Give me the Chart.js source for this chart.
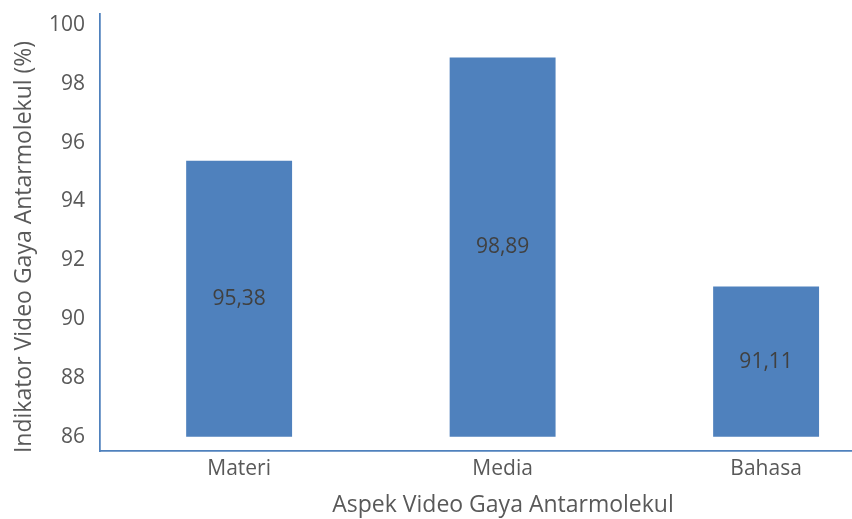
<!DOCTYPE html>
<html>
<head>
<meta charset="utf-8">
<script src="https://cdn.jsdelivr.net/npm/chart.js@4"></script>
<style>
    body { margin: 0; background: #ffffff; }
    #wrap { width: 852px; height: 519px; }
</style>
</head>
<body>
<div id="wrap"><canvas id="diagram" width="852" height="519"></canvas></div>
<script>
const categories = ['Materi', 'Media', 'Bahasa'];
const values = [95.38, 98.89, 91.11];
const yTicks = [86, 88, 90, 92, 94, 96, 98, 100];

const xTitleText = 'Aspek Video Gaya Antarmolekul';
const yTitleText = 'Indikator Video Gaya Antarmolekul (%)';

const barColor = '#4F81BD';
const textColor = '#595959';

// labels in the middle of each bar, comma as decimal separator
const barLabels = {
    id: 'barLabels',
    afterDatasetsDraw(chart) {
        const ctx = chart.ctx;
        const meta = chart.getDatasetMeta(0);
        ctx.save();
        ctx.font = '21px "Open Sans"';
        ctx.fillStyle = '#404040';
        ctx.textAlign = 'center';
        ctx.textBaseline = 'middle';
        meta.data.forEach((bar, i) => {
            ctx.fillText(values[i].toFixed(2).replace('.', ','), bar.x, (bar.y + bar.base) / 2);
        });
        ctx.restore();
    }
};

// axis titles: the original plot runs past the right edge, so they sit off centre
const axisTitles = {
    id: 'axisTitles',
    afterDraw(chart) {
        const ctx = chart.ctx;
        ctx.save();
        ctx.font = '23px "Open Sans"';
        ctx.fillStyle = textColor;
        ctx.textAlign = 'center';
        ctx.textBaseline = 'middle';
        ctx.fillText(xTitleText, 503, 505);
        ctx.translate(24, 247);
        ctx.rotate(-Math.PI / 2);
        ctx.fillText(yTitleText, 0, 0);
        ctx.restore();
    }
};

new Chart(
    document.getElementById('diagram'),
    {
        type: 'bar',
        data: {
            datasets: [
                {
                    data: values.map((v, i) => ({ x: i, y: v })),
                    base: 86,
                    backgroundColor: barColor,
                    borderWidth: 0,
                    barPercentage: 0.402,
                    categoryPercentage: 1
                }
            ]
        },
        options: {
            responsive: false,
            animation: false,
            devicePixelRatio: 1,
            layout: {
                padding: { top: 14, right: 0, left: 0, bottom: 0 }
            },
            plugins: {
                legend: { display: false },
                tooltip: { enabled: false }
            },
            scales: {
                x: {
                    type: 'linear',
                    offset: false,
                    min: -0.528,
                    max: 2.326,
                    afterBuildTicks: scale => {
                        scale.ticks = categories.map((c, i) => ({ value: i }));
                    },
                    afterFit: scale => {
                        scale.height = 68;
                        scale.paddingLeft = 0;
                        scale.paddingRight = 0;
                    },
                    grid: { display: false, drawTicks: false, offset: false },
                    border: { display: true, color: barColor, width: 1.75 },
                    ticks: {
                        padding: 5,
                        color: textColor,
                        font: { family: 'Open Sans', size: 21 },
                        callback: v => categories[v]
                    }
                },
                y: {
                    min: 85.52,
                    max: 100.37,
                    afterBuildTicks: scale => {
                        scale.ticks = yTicks.map(v => ({ value: v }));
                    },
                    afterFit: scale => {
                        scale.width = 100;
                        scale.paddingTop = 0;
                        scale.paddingBottom = 0;
                    },
                    grid: { display: false, drawTicks: false },
                    border: { display: true, color: barColor, width: 1.75 },
                    ticks: {
                        padding: 15,
                        color: textColor,
                        font: { family: 'Open Sans', size: 21 }
                    }
                }
            }
        },
        plugins: [barLabels, axisTitles]
    }
);
</script>
</body>
</html>
